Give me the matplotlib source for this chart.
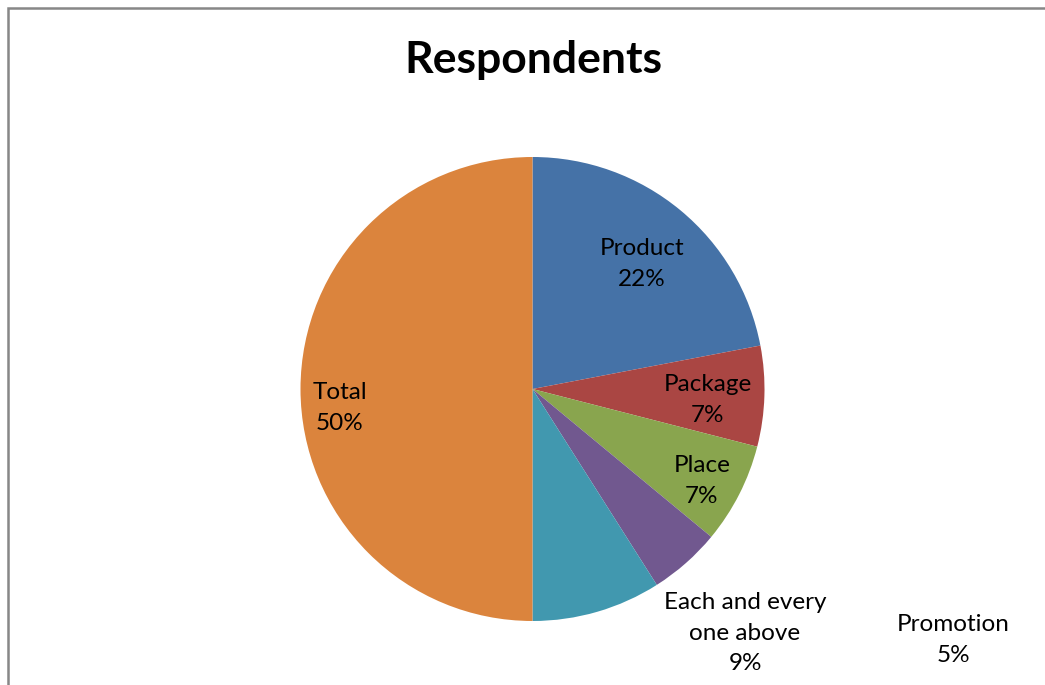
import matplotlib.pyplot as plt
from matplotlib.patches import Rectangle

# slice order runs clockwise from 12 o'clock
categories = ["Product", "Package", "Place", "Promotion",
              "Each and every\none above", "Total"]
shares = [22, 7, 7, 5, 9, 50]
colors = ["#4572A7", "#AA4643", "#89A54E", "#71588F", "#4198AF", "#DB843D"]

# label anchor points in pixel space (x right, y down)
label_xy = [(642, 264), (708, 400), (702, 481), (953, 640),
            (745, 633), (340, 408)]

W, H = 1045, 685
fig = plt.figure(figsize=(W / 100, H / 100), dpi=100)
ax = fig.add_axes([0, 0, 1, 1])

ax.pie(shares, colors=colors, startangle=90, counterclock=False,
       center=(532.5, H - 389), radius=232, frame=True,
       wedgeprops=dict(linewidth=0))
ax.set_xlim(0, W)
ax.set_ylim(0, H)
ax.axis("off")

for name, val, (x, y) in zip(categories, shares, label_xy):
    ax.text(x, H - y, f"{name}\n{val}%", ha="center", va="center",
            fontsize=17.5, family="Lato", linespacing=1.56, color="black")

ax.text(533, H - 60, "Respondents", ha="center", va="center",
        fontsize=32, family="Lato", fontweight="bold")

# chart area outline, runs off the right and bottom edges
ax.add_patch(Rectangle((8, -20), W + 40, H - 8 + 20, fill=False,
                       edgecolor="#878787", linewidth=1.8, clip_on=False))

fig.savefig("out.png", dpi=100)
